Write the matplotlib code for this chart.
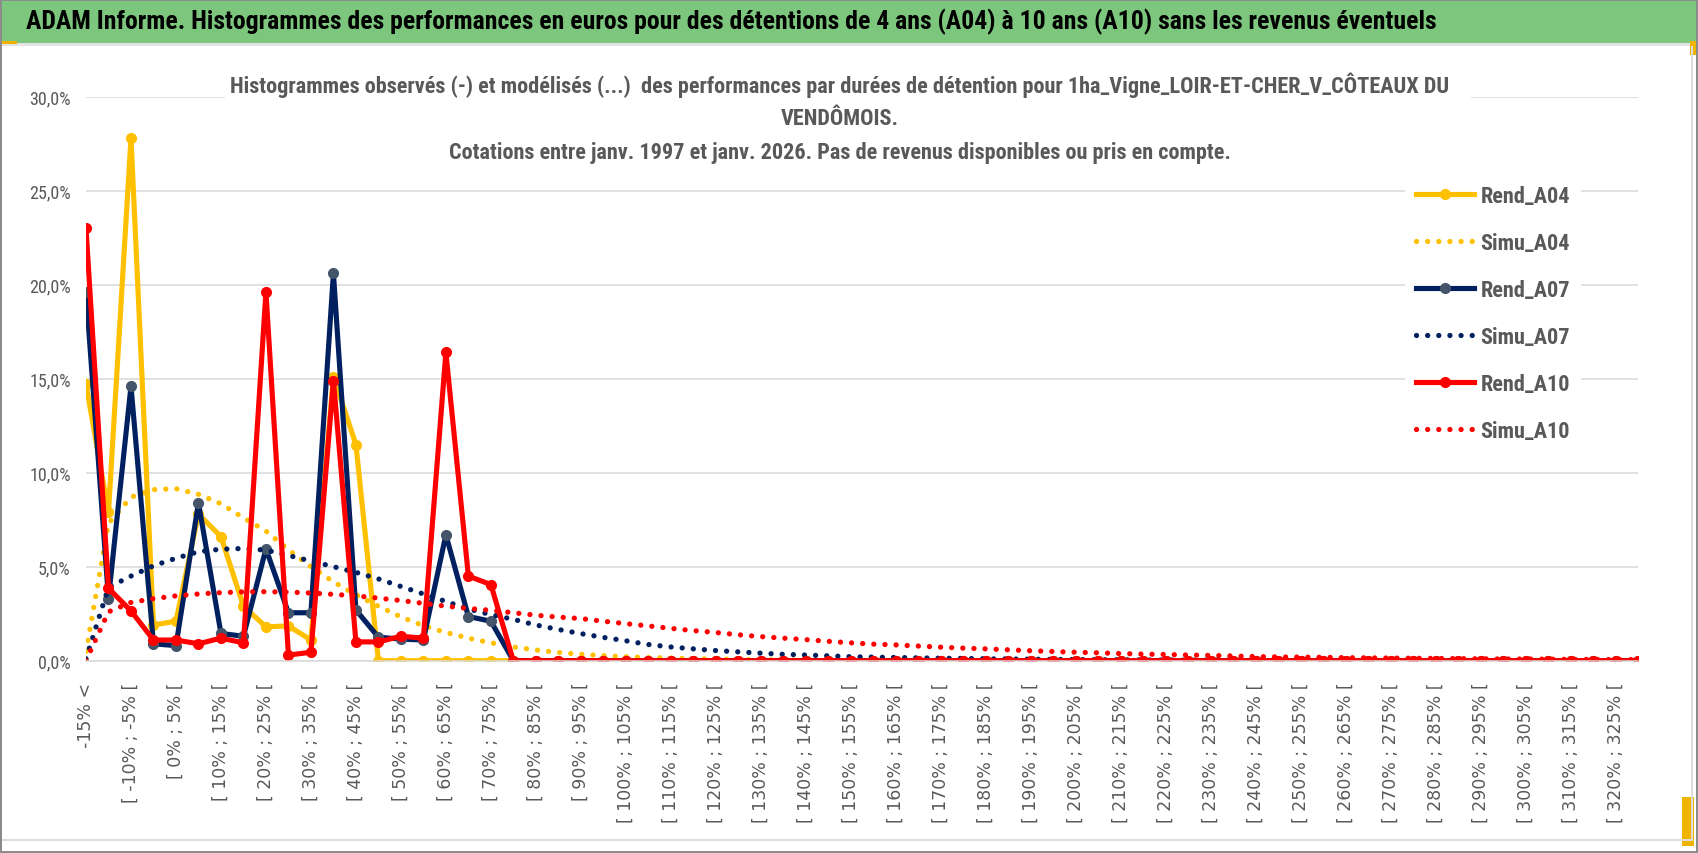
import matplotlib
matplotlib.use("Agg")
import matplotlib.pyplot as plt
from matplotlib import font_manager as fm
from matplotlib.patches import Rectangle
from matplotlib.ticker import FuncFormatter

# ── Fonts ─────────────────────────────────────────────────────
names = {f.name for f in fm.fontManager.ttflist}
def pick(*fams):
    return next((f for f in fams if f in names), 'DejaVu Sans')
NARROW = pick('Liberation Sans Narrow', 'Roboto Condensed',
              'Open Sans Condensed', 'Liberation Sans')

# ── Data (% of holdings per return class) ─────────────────────
categories = ["-15% <"] + [f"[ {lo}% ; {lo + 5}% [" for lo in range(-15, 330, 5)]

rend_a04 = [14.7, 7.9, 27.8, 1.9, 2.1, 7.8, 6.6, 2.9, 1.8, 1.85,
            1.1, 15.1, 11.5] + [0.0] * 57
rend_a07 = [19.6, 3.3, 14.6, 0.9, 0.8, 8.4, 1.45, 1.3, 5.95, 2.55,
            2.55, 20.6, 2.7, 1.25, 1.15, 1.1, 6.7, 2.35, 2.1] + [0.0] * 51
rend_a10 = [23.0, 3.85, 2.65, 1.1, 1.1, 0.9, 1.2, 0.95, 19.6, 0.3,
            0.45, 14.9, 1.0, 1.0, 1.3, 1.2, 16.4, 4.5, 4.05] + [0.0] * 51

simu_a04 = [0.5, 7.3, 8.7, 9.1, 9.15, 8.85, 8.35, 7.6, 6.9, 5.9,
            5.0, 4.2, 3.5, 2.9, 2.33, 1.86, 1.5, 1.2, 0.95, 0.73,
            0.57, 0.44, 0.34, 0.27, 0.21, 0.17, 0.14, 0.11, 0.09, 0.07,
            0.05, 0.04, 0.03, 0.03, 0.02, 0.02, 0.01, 0.01, 0.01, 0.01] + [0.0] * 30
simu_a07 = [0.1, 3.9, 4.5, 5.05, 5.45, 5.8, 5.93, 5.97, 5.88, 5.6,
            5.3, 5.0, 4.7, 4.35, 3.95, 3.55, 3.15, 2.75, 2.45, 2.2,
            1.9, 1.66, 1.44, 1.24, 1.06, 0.86, 0.73, 0.63, 0.54, 0.47,
            0.4, 0.34, 0.3, 0.26, 0.21, 0.19, 0.17, 0.15, 0.13, 0.12,
            0.1, 0.09, 0.08, 0.07, 0.06, 0.05, 0.05, 0.04, 0.04, 0.03,
            0.03, 0.03, 0.02, 0.02, 0.02, 0.02, 0.01, 0.01, 0.01, 0.01,
            0.01, 0.01, 0.01, 0.01, 0.0, 0.0, 0.0, 0.0, 0.0, 0.0]
simu_a10 = [0.0, 2.6, 3.1, 3.3, 3.45, 3.55, 3.62, 3.66, 3.67, 3.65,
            3.6, 3.53, 3.45, 3.33, 3.2, 3.05, 2.9, 2.78, 2.68, 2.55,
            2.42, 2.32, 2.24, 2.1, 1.97, 1.85, 1.72, 1.6, 1.5, 1.38,
            1.28, 1.2, 1.12, 1.03, 0.95, 0.88, 0.84, 0.78, 0.72, 0.67,
            0.63, 0.58, 0.53, 0.49, 0.45, 0.42, 0.38, 0.35, 0.33, 0.3,
            0.28, 0.25, 0.22, 0.2, 0.19, 0.18, 0.16, 0.15, 0.14, 0.13,
            0.12, 0.11, 0.1, 0.09, 0.09, 0.08, 0.07, 0.07, 0.06, 0.06]

banner = ("ADAM Informe. Histogrammes des performances en euros pour des "
          "détentions de 4 ans (A04) à 10 ans (A10) sans les revenus éventuels")
title_lines = [
    "Histogrammes observés (-) et modélisés (...)  des performances par durées "
    "de détention pour 1ha_Vigne_LOIR-ET-CHER_V_CÔTEAUX DU",
    "VENDÔMOIS.",
    "Cotations entre janv. 1997 et janv. 2026. Pas de revenus disponibles ou pris en compte.",
]

# ── Styling ───────────────────────────────────────────────────
GOLD, NAVY, NAVY_MK, RED = '#FFC000', '#002060', '#44546A', '#FF0000'
GRID, TXT = '#D9D9D9', '#595959'
W, H = 1698, 854

fig = plt.figure(figsize=(W / 100, H / 100), dpi=100, facecolor='white')
ax = fig.add_axes([86 / W, 1 - 661.7 / H, (1638 - 86) / W, (661.7 - 97.7) / H])

x = list(range(len(categories)))
rend_kw = dict(linewidth=3.7, marker='o', markersize=7, solid_joinstyle='round')
simu_kw = dict(linewidth=3.8, linestyle=(0, (0.01, 2.1)), dash_capstyle='round')

ax.plot(x, rend_a04, color=GOLD, markerfacecolor=GOLD, markeredgecolor=GOLD,
        label='Rend_A04', **rend_kw)
ax.plot(x, simu_a04, color=GOLD, label='Simu_A04', **simu_kw)
ax.plot(x, rend_a07, color=NAVY, markerfacecolor=NAVY_MK, markeredgecolor=NAVY_MK,
        label='Rend_A07', **rend_kw)
ax.plot(x, simu_a07, color=NAVY, label='Simu_A07', **simu_kw)
ax.plot(x, rend_a10, color=RED, markerfacecolor=RED, markeredgecolor=RED,
        label='Rend_A10', **rend_kw)
ax.plot(x, simu_a10, color=RED, label='Simu_A10', **simu_kw)

ax.set_xlim(0, len(categories) - 1)
ax.set_ylim(0, 30)
ax.set_yticks(range(0, 31, 5))
ax.yaxis.set_major_formatter(FuncFormatter(lambda v, _: f"{v:.1f}%".replace('.', ',')))
ax.set_xticks(x[::2])
ax.set_xticklabels(categories[::2], rotation=90, va='top', ha='center')
ax.set_xticks(x[::4], minor=True)

ax.grid(axis='y', color=GRID, linewidth=1.1)
ax.grid(axis='x', which='minor', color=GRID, linewidth=1.1)
ax.set_axisbelow(True)
for s in ['left', 'right', 'top']:
    ax.spines[s].set_visible(False)
ax.spines['bottom'].set_color(GRID)
ax.spines['bottom'].set_linewidth(1.1)
ax.tick_params(axis='x', which='major', length=0, pad=15, colors=TXT, labelsize=12.5)
ax.tick_params(axis='x', which='minor', length=6, color=GRID, width=1.1)
ax.tick_params(axis='y', length=0, pad=11, colors=TXT)
for lab in ax.get_yticklabels():
    lab.set_fontfamily(NARROW)
    lab.set_fontsize(13)

leg = ax.legend(loc='upper left', bbox_to_anchor=(1405 / W, 1 - 175 / H),
                bbox_transform=fig.transFigure, frameon=True, facecolor='white',
                edgecolor='none', framealpha=1, fancybox=False,
                prop=dict(family=NARROW, weight='bold', size=16),
                labelcolor=TXT, handlelength=2.6, handletextpad=0.3,
                labelspacing=1.12, borderpad=0.5, borderaxespad=0)

# ── Frame, banner and title box ───────────────────────────────
def px_rect(x0, y0, x1, y1, color, z):
    fig.add_artist(Rectangle((x0 / W, 1 - y1 / H), (x1 - x0) / W, (y1 - y0) / H,
                             transform=fig.transFigure, facecolor=color,
                             edgecolor='none', zorder=z))

px_rect(225, 46, 1471, 168, 'white', 1)
px_rect(0, 0, W, 44, '#7DC67D', 2)
px_rect(0, 44, W, 47, '#E3E3E3', 2)
px_rect(0, 42, 17, 45, '#F0B400', 3)
px_rect(1690, 42, W, 56, '#F0B400', 3)
px_rect(1682, 798, 1694, 847, '#F0B400', 3)
px_rect(0, 0, W, 2, '#8C8C8C', 4)
px_rect(0, 0, 2, H, '#8C8C8C', 4)
px_rect(W - 2, 0, W, H, '#8C8C8C', 4)
px_rect(0, H - 2, W, H, '#8C8C8C', 4)
px_rect(2, 840, 1692, 842, '#DDDDDD', 3)
px_rect(1691, 47, 1693, 842, '#DDDDDD', 3)

renderer = fig.canvas.get_renderer()
def fit_width(t, target):
    w = t.get_window_extent(renderer).width
    t.set_fontsize(t.get_fontsize() * target / w)

bt = fig.text(26 / W, 1 - 22 / H, banner, ha='left', va='center', color='black',
              fontsize=18, fontweight='bold', family=NARROW, zorder=5)
fit_width(bt, 1415)

title_y = [85, 119, 153]
tts = []
for line, yy in zip(title_lines, title_y):
    tts.append(fig.text(840 / W, 1 - yy / H, line, ha='center', va='center',
                        color=TXT, fontsize=16, fontweight='bold',
                        family=NARROW, zorder=5))
fit_width(tts[0], 1220)
for t in tts[1:]:
    t.set_fontsize(tts[0].get_fontsize())

fig.savefig('out.png', dpi=100, facecolor='white')
